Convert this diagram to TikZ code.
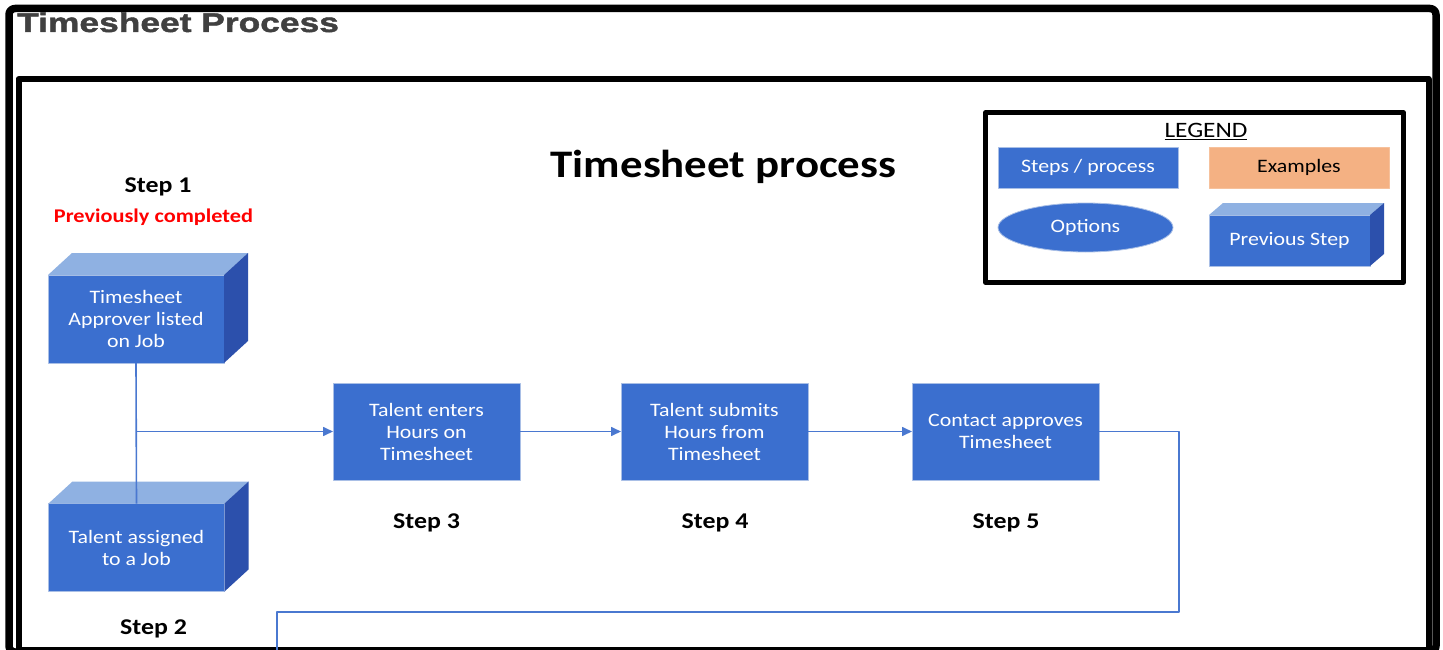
\documentclass[tikz,border=0pt]{standalone}
\usepackage{fontspec}
\setmainfont{Carlito}[FakeStretch=1.15]
\newfontfamily\headfont{Liberation Sans Bold}[FakeStretch=1.31,FakeBold=1.6]
\usepackage{tikz}
\usetikzlibrary{arrows.meta,shapes.geometric,positioning}
\definecolor{stepblue}{HTML}{3B6FCF}
\definecolor{topblue}{HTML}{8FB1E2}
\definecolor{sideblue}{HTML}{2C50AC}
\definecolor{edgeblue}{HTML}{A9BFE6}
\definecolor{linkblue}{HTML}{4A78D0}
\definecolor{examplefill}{HTML}{F4B183}
\definecolor{headgray}{HTML}{404040}
\tikzset{>={Triangle[length=10pt,width=9pt]}}
\tikzset{
	stepbox/.style={rectangle, fill=stepblue, draw=edgeblue, line width=0.8pt, text=white, align=center,
		minimum width=187pt, minimum height=97pt, inner sep=0pt, outer sep=0pt, font=\fontsize{19}{22}\selectfont},
	cubebox/.style={stepbox, minimum width=176pt, minimum height=88pt},
	legendbox/.style={stepbox, minimum width=180pt, minimum height=41pt},
	steplabel/.style={anchor=base, inner sep=0pt, font=\bfseries\fontsize{22.5}{26}\selectfont},
	link/.style={draw=linkblue, line width=1.6pt}
}
\newcommand{\cubefaces}[3]{%
	\fill[topblue] (#1.north west) -- ++(#2,-#3) -- ([shift={(#2,-#3)}]#1.north east) -- (#1.north east) -- cycle;
	\fill[sideblue] (#1.north east) -- ++(#2,-#3) -- ([shift={(#2,-#3)}]#1.south east) -- (#1.south east) -- cycle;}

\begin{document}
\begin{tikzpicture}[x=1pt,y=-1pt,line join=round]
	\useasboundingbox (0,0) rectangle (1443,650);
	\clip (0,0) rectangle (1443,650);
	\fill[white] (0,0) rectangle (1443,650);
	\draw[line width=7.5pt, rounded corners=6pt] (9,8.5) rectangle (1436,652);
	\draw[line width=6pt] (18.5,79) rectangle (1428.5,650);

	\node[anchor=base west, inner sep=0pt, text=headgray, font=\headfont\fontsize{27}{30}\selectfont] (pagetitle) at (17,32) {Timesheet Process};
	\node[anchor=base, inner sep=0pt, font=\bfseries\fontsize{39}{42}\selectfont] (title) at (723.5,177) {Timesheet process};

	\node[draw, line width=4.5pt, minimum width=418pt, minimum height=170pt, inner sep=0pt] (legend) at (1194.5,197.5) {};
	\node[anchor=base, inner sep=0pt, font=\fontsize{22}{26}\selectfont] (legendtitle) at (1206,138) {\underline{LEGEND}};
	\node[legendbox] (legendstep) at (1088,167.5) {Steps / process};
	\node[legendbox, fill=examplefill, draw=examplefill!80!white, text=black] (legendexample) at (1299,167.5) {Examples};
	\node[ellipse, fill=stepblue, draw=edgeblue, line width=0.8pt, text=white, minimum width=175pt, minimum height=49pt,
		inner sep=0pt, font=\fontsize{19}{22}\selectfont] (legendoption) at (1085.5,227.5) {Options};
	\node[legendbox, minimum width=161pt, minimum height=51pt] (legendprev) at (1289.5,240.5) {Previous Step};
	\cubefaces{legendprev}{14}{12}

	\node[steplabel] (label1) at (158,192) {Step 1};
	\node[steplabel, text=red, font=\bfseries\fontsize{19.4}{22}\selectfont] (prevdone) at (153.5,222) {Previously completed};
	\node[cubebox] (s1) at (136,319) {Timesheet\\Approver listed\\on Job};
	\cubefaces{s1}{24}{22}
	\node[cubebox] (s2) at (136.5,547.5) {Talent assigned\\to a Job};
	\cubefaces{s2}{24}{22}
	\node[steplabel] (label2) at (153.5,634) {Step 2};

	\node[stepbox] (s3) at (426.5,431.5) {Talent enters\\Hours on\\Timesheet};
	\node[stepbox] (s4) at (714.5,431.5) {Talent submits\\Hours from\\Timesheet};
	\node[stepbox] (s5) at (1005.5,431.5) {Contact approves\\Timesheet};
	\node[steplabel] (label3) at (426.5,528) {Step 3};
	\node[steplabel] (label4) at (715,528) {Step 4};
	\node[steplabel] (label5) at (1006,528) {Step 5};

	\coordinate (turn) at (1179,612);
	\coordinate (loopend) at (277,660);
	\draw[link] (s1.south) -- (s2.north);
	\draw[link,->] (s1.south |- s3.west) -- (s3.west);
	\draw[link,->] (s3) -- (s4);
	\draw[link,->] (s4) -- (s5);
	\draw[link] (s5.east) -| (turn) -| (loopend);
\end{tikzpicture}
\end{document}
